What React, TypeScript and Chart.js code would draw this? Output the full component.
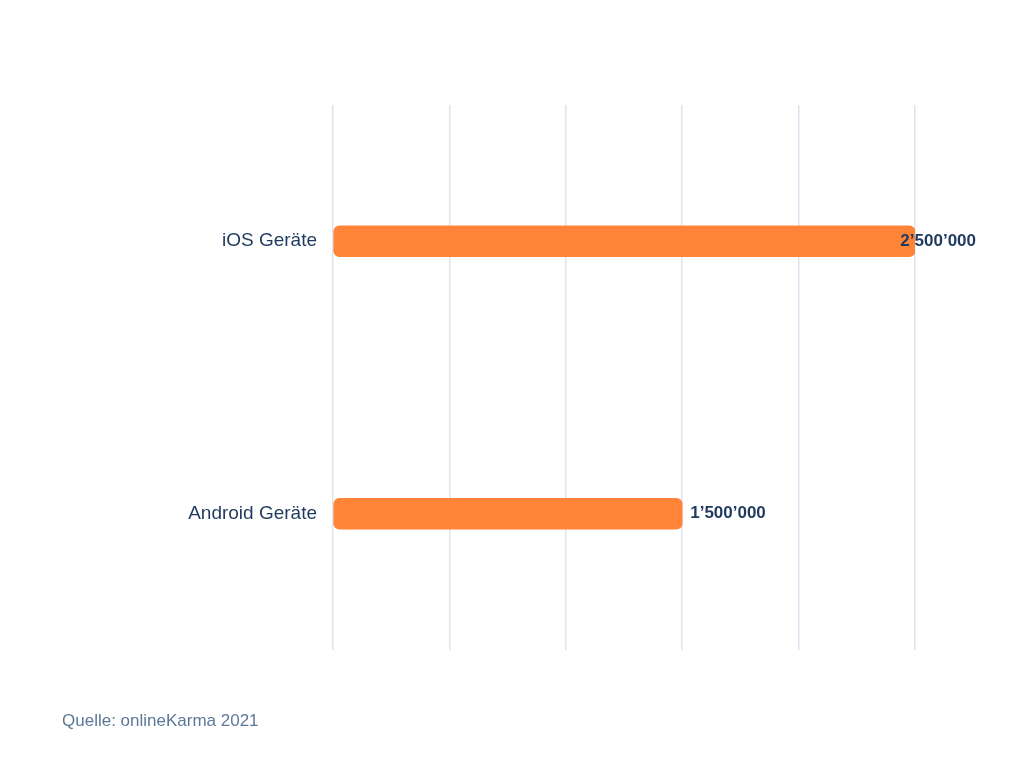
import { useEffect, useRef } from 'react'
import { Chart, registerables } from 'chart.js'

Chart.register(...registerables)

const categories = ['iOS Geräte', 'Android Geräte']
const devices = [2500000, 1500000]
const valueLabels = ['2’500’000', '1’500’000']
const sourceNote = 'Quelle: onlineKarma 2021'

const navy = '#1f3a5f'

export default function App() {
  const canvasRef = useRef<HTMLCanvasElement>(null)
  const chartRef = useRef<Chart | null>(null)

  useEffect(() => {
    if (!canvasRef.current) return
    chartRef.current?.destroy()

    // value labels at bar end, pushed left if they would run off the right side
    const barLabels = {
      id: 'barLabels',
      afterDatasetsDraw(chart: Chart) {
        const { ctx } = chart
        const meta = chart.getDatasetMeta(0)
        ctx.save()
        ctx.font = 'bold 17px "Liberation Sans", Arial, sans-serif'
        ctx.fillStyle = navy
        ctx.textBaseline = 'middle'
        meta.data.forEach((bar: any, i: number) => {
          const text = valueLabels[i]
          const w = ctx.measureText(text).width
          const x = Math.min(bar.x + 8, 976 - w)
          ctx.fillText(text, x, bar.y)
        })
        ctx.restore()
      },
    }

    chartRef.current = new Chart(canvasRef.current, {
      type: 'bar',
      data: {
        labels: categories,
        datasets: [{
          data: devices,
          backgroundColor: '#ff8437',
          borderRadius: 6,
          borderSkipped: false,
          barThickness: 31,
        }],
      },
      options: {
        indexAxis: 'y',
        responsive: false,
        animation: false,
        layout: { padding: { left: 0, right: 109, top: 105, bottom: 118 } },
        plugins: {
          legend: { display: false },
          tooltip: { enabled: false },
        },
        scales: {
          x: {
            min: 0,
            max: 2500000,
            ticks: { display: false, stepSize: 500000 },
            grid: { color: '#dfe3ef', lineWidth: 1.5, drawTicks: false },
            border: { display: false },
            afterFit: (s: any) => { s.height = 0 },
          },
          y: {
            grid: { display: false, drawTicks: false },
            border: { display: false },
            ticks: {
              color: navy,
              padding: 16,
              font: { size: 19, family: '"Liberation Sans", Arial, sans-serif' },
            },
            afterFit: (s: any) => { s.width = 333 },
          },
        },
      },
      plugins: [barLabels],
    })

    return () => {
      chartRef.current?.destroy()
    }
  }, [])

  return (
    <div style={{ position: 'absolute', left: 0, top: 0, width: 1024, height: 768, background: '#fff' }}>
      <canvas ref={canvasRef} width={1024} height={768} style={{ width: 1024, height: 768 }} />
      <div style={{
        position: 'absolute', left: 62, top: 711,
        fontFamily: '"Liberation Sans", Arial, sans-serif', fontSize: 17,
        color: '#5d7898',
      }}>
        {sourceNote}
      </div>
    </div>
  )
}
